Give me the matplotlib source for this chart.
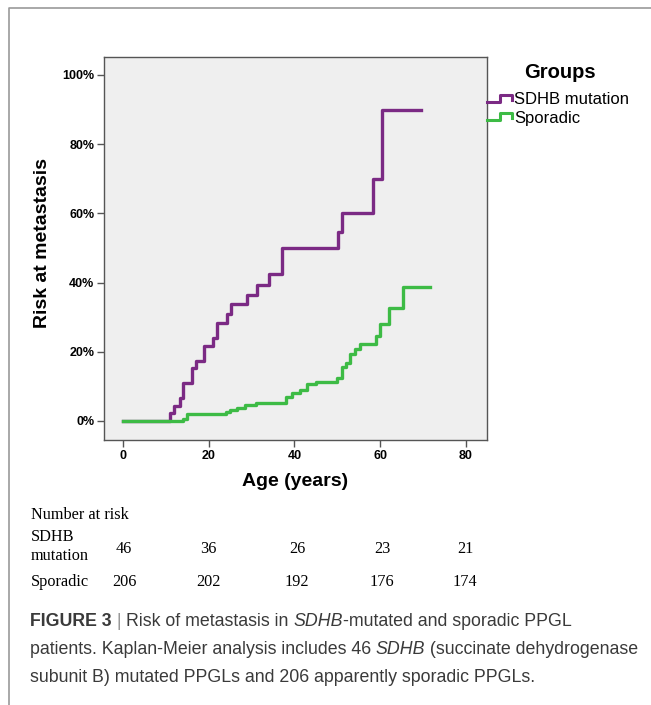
import numpy as np
import matplotlib
matplotlib.use('Agg')
import matplotlib.pyplot as plt
from matplotlib.lines import Line2D

plt.rcParams['font.family'] = ['Liberation Sans', 'DejaVu Sans']

# Kaplan-Meier steps (age in years, cumulative risk in %)
sdhb_age = [0, 11, 12, 13.3, 14, 16, 17, 19, 21, 22, 24.2, 25.1, 29, 31.2, 34, 37,
            50.1, 51, 58.3, 60.4, 69.5]
sdhb_risk = [0, 2.2, 4.4, 6.6, 10.9, 15.2, 17.4, 21.7, 23.9, 28.3, 30.9, 33.7, 36.4,
             39.2, 42.6, 50, 54.7, 60, 70, 90, 90]

spor_age = [0, 14, 15, 24, 25, 26.5, 28.5, 31, 38, 39.4, 41.3, 43, 45, 50, 51, 52,
            53, 54, 55.2, 59, 60, 62, 65.2, 71.5]
spor_risk = [0, 0.5, 2, 2.6, 3.2, 3.8, 4.6, 5.2, 6.9, 8, 9, 10.7, 11.3, 12.4, 15.6,
             16.7, 19.4, 20.8, 22.2, 24.6, 28, 32.6, 38.7, 38.7]

groups = ['SDHB mutation', 'Sporadic']
colors = ['#7b2a84', '#3dbb45']

x_ticks = [0, 20, 40, 60, 80]
y_ticks = [0, 20, 40, 60, 80, 100]

risk_sdhb = ['46', '36', '26', '23', '21']
risk_spor = ['206', '202', '192', '176', '174']

W, H = 651, 705
fig = plt.figure(figsize=(W / 100, H / 100), dpi=100)


def fx(x):
    return x / W


def fy(y):
    return 1 - y / H


# panel border
fig.add_artist(Line2D([fx(9), fx(9), fx(W)], [fy(H), fy(8), fy(8)],
                      color='#9a9a9a', lw=1.2))

ax = fig.add_axes([fx(104), fy(440), (487 - 104) / W, (440 - 57) / H])
ax.set_facecolor('#efefef')
for s in ax.spines.values():
    s.set_color('#555555')
    s.set_linewidth(1.0)

ax.step(sdhb_age, sdhb_risk, where='post', color=colors[0], lw=2.4)
ax.step(spor_age, spor_risk, where='post', color=colors[1], lw=2.4)

ax.set_xlim(-4.43, 84.9)
ax.set_ylim(-5.5, 105.2)
ax.set_xticks(x_ticks)
ax.set_xticklabels([str(v) for v in x_ticks], fontsize=9, fontweight='bold')
ax.set_yticks(y_ticks)
ax.set_yticklabels([f'{v}%' for v in y_ticks], fontsize=9, fontweight='bold')
ax.tick_params(length=5, width=1, color='#555555', pad=2)

fig.text(fx(43), fy(243), 'Risk at metastasis', rotation=90, fontsize=14,
         fontweight='bold', ha='center', va='center')
fig.text(fx(295), fy(482), 'Age (years)', fontsize=14, fontweight='bold',
         ha='center', va='center')

# legend
fig.text(fx(560), fy(73), 'Groups', fontsize=14.5, fontweight='bold',
         ha='center', va='center')
for i, (g, c) in enumerate(zip(groups, colors)):
    y0 = 100 + i * 18
    fig.add_artist(Line2D([fx(487), fx(500), fx(500), fx(512), fx(512)],
                          [fy(y0 + 2), fy(y0 + 2), fy(y0 - 5), fy(y0 - 5), fy(y0)],
                          color=c, lw=2.2))
    fig.text(fx(514), fy(y0), g, fontsize=12, ha='left', va='center')

# number at risk table
serif = ['Liberation Serif', 'DejaVu Serif']
fs_t = 11.7
tx = [124, 208, 297, 382, 465]
fig.text(fx(31), fy(515), 'Number at risk', family=serif, fontsize=fs_t, va='center')
fig.text(fx(31), fy(537), 'SDHB', family=serif, fontsize=fs_t, va='center')
fig.text(fx(31), fy(556), 'mutation', family=serif, fontsize=fs_t, va='center')
fig.text(fx(31), fy(582), 'Sporadic', family=serif, fontsize=fs_t, va='center')
for x, a, b in zip(tx, risk_sdhb, risk_spor):
    fig.text(fx(x), fy(549), a, family=serif, fontsize=fs_t, ha='center', va='center')
    fig.text(fx(x), fy(582), b, family=serif, fontsize=fs_t, ha='center', va='center')

# caption, written piece by piece
renderer = fig.canvas.get_renderer()
cap_color = '#3a3a3a'
lines = [
    [('FIGURE 3', 'bold', 'normal', cap_color), (' | ', 'normal', 'normal', '#999999'),
     ('Risk of metastasis in ', 'normal', 'normal', cap_color),
     ('SDHB', 'normal', 'italic', cap_color),
     ('-mutated and sporadic PPGL', 'normal', 'normal', cap_color)],
    [('patients. Kaplan-Meier analysis includes 46 ', 'normal', 'normal', cap_color),
     ('SDHB', 'normal', 'italic', cap_color),
     (' (succinate dehydrogenase', 'normal', 'normal', cap_color)],
    [('subunit B) mutated PPGLs and 206 apparently sporadic PPGLs.', 'normal', 'normal',
      cap_color)],
]
for k, pieces in enumerate(lines):
    x = fx(30)
    y = fy(622 + 28 * k)
    for txt, wt, st, col in pieces:
        t = fig.text(x, y, txt, fontsize=12.8, fontweight=wt, fontstyle=st,
                     color=col, va='center', ha='left')
        bb = t.get_window_extent(renderer)
        x += bb.width / W

fig.savefig('out.png', dpi=100)
